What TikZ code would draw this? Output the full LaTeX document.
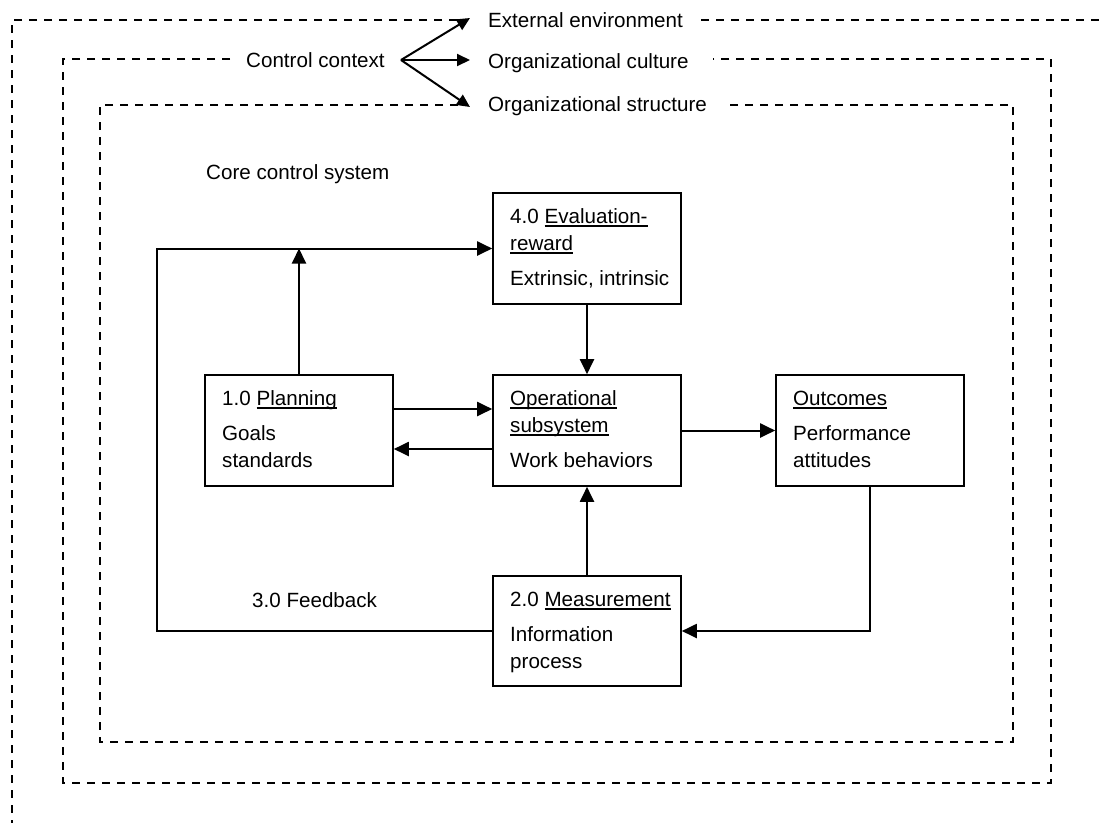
\documentclass[tikz,border=0pt]{standalone}
\usepackage{fontspec}
\setmainfont{Liberation Sans}
\usetikzlibrary{arrows.meta}
% underline set just below the baseline, crossing descenders
\newcommand\ulword[1]{\leavevmode\setbox0\hbox{#1}\rlap{\rule[-3.6pt]{\wd0}{1.2pt}}\box0}
\begin{document}
\begin{tikzpicture}[x=1pt,y=-1pt,
  every node/.style={font=\fontsize{20.6}{27}\selectfont, inner sep=0pt},
  frame/.style={line width=2pt, dash pattern=on 8pt off 7pt},
  boxnode/.style={draw, line width=1.6pt, minimum width=188pt, minimum height=111pt},
  link/.style={line width=2pt, -{Triangle[length=15pt,width=14pt]}},
  fanlink/.style={line width=2pt, -{Triangle[length=13pt,width=12pt]}},
  txt/.style={anchor=base west}]
\useasboundingbox (0,0) rectangle (1100,823);

% nested context frames
\draw[frame] (457,20) -- (12,20) -- (12,823);
\draw[frame] (701,20) -- (1100,20);
\draw[frame] (230,59) -- (63,59) -- (63,783) -- (1051,783) -- (1051,59) -- (713,59);
\draw[frame] (458,105) -- (100,105) -- (100,742) -- (1013,742) -- (1013,105) -- (724,105);

% context labels
\node[txt] (ctx) at (246,67) {Control context};
\node[txt] (ext) at (488,27) {External environment};
\node[txt] (cult) at (488,68) {Organizational culture};
\node[txt] (struc) at (488,111) {Organizational structure};
\coordinate (fan) at (401,60);
\coordinate (tipext) at (470,18);
\coordinate (tipcult) at (470,60);
\coordinate (tipstruc) at (470,107);
\draw[fanlink] (fan) -- (tipext);
\draw[fanlink] (fan) -- (tipcult);
\draw[fanlink] (fan) -- (tipstruc);

\node[txt] (core) at (206,179) {Core control system};
\node[txt] (fb) at (252,607) {3.0 Feedback};

% process boxes
\node[boxnode] (eval) at (587,248.5) {};
\node[boxnode] (plan) at (299,430.5) {};
\node[boxnode] (op) at (587,430.5) {};
\node[boxnode] (out) at (870,430.5) {};
\node[boxnode, minimum height=110pt] (meas) at (587,631) {};

% box texts
\node[txt] (eval-a) at (510,223) {4.0 \ulword{Evaluation-}};
\node[txt] (eval-b) at (510,250) {\ulword{reward}};
\node[txt] (eval-c) at (510,285) {Extrinsic, intrinsic};

\node[txt] (plan-a) at (222,405) {1.0 \ulword{Planning}};
\node[txt] (plan-b) at (222,440) {Goals};
\node[txt] (plan-c) at (222,467) {standards};

\node[txt] (op-a) at (510,405) {\ulword{Operational}};
\node[txt] (op-b) at (510,432) {\ulword{subsystem}};
\node[txt] (op-c) at (510,467) {Work behaviors};

\node[txt] (out-a) at (793,405) {\ulword{Outcomes}};
\node[txt] (out-b) at (793,440) {Performance};
\node[txt] (out-c) at (793,467) {attitudes};

\node[txt] (meas-a) at (510,606) {2.0 \ulword{Measurement}};
\node[txt] (meas-b) at (510,641) {Information};
\node[txt] (meas-c) at (510,668) {process};

% connectors
\coordinate (loopL) at (157,0);
\draw[link] ([yshift=21.5pt]plan.east) -- ([yshift=21.5pt]op.west);
\draw[link] ([yshift=-18.5pt]op.west) -- ([yshift=-18.5pt]plan.east);
\draw[link] (op.east) -- (out.west);
\draw[link] (eval.south) -- (op.north);
\draw[link] (meas.north) -- (op.south);
\draw[link] (out.south) |- (meas.east);
\draw[link] (meas.west) -| (loopL |- eval.west) -- (eval.west);
\draw[link] (plan.north) -- (plan.north |- eval.west);
\end{tikzpicture}
\end{document}
